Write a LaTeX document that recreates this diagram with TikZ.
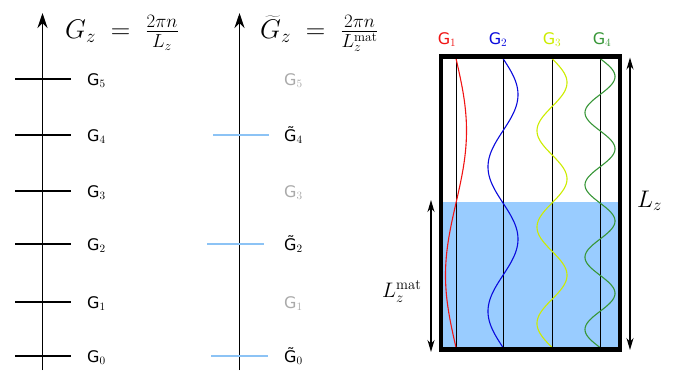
\RequirePackage{fix-cm}
\documentclass[tikz,border=0pt]{standalone}
\usepackage{fontspec}
\newfontfamily\dv{DejaVu Sans}
\usetikzlibrary{arrows.meta}
\definecolor{matblue}{RGB}{153,204,255}
\definecolor{tickblue}{RGB}{140,195,245}
\definecolor{lblgray}{RGB}{170,170,170}
\definecolor{wred}{RGB}{240,20,20}
\definecolor{wblue}{RGB}{10,10,220}
\definecolor{wyellow}{RGB}{204,236,0}
\definecolor{wgreen}{RGB}{55,150,55}
\tikzset{
  axisline/.style={line width=1.5pt,-{Stealth[length=15pt,width=10pt]}},
  tickline/.style={line width=1.5pt},
  bluetick/.style={line width=1.3pt,draw=tickblue},
  glab/.style={anchor=base west,inner sep=0pt,font=\dv\fontsize{16}{16}\selectfont},
  toplab/.style={anchor=base,inner sep=0pt,font=\dv\fontsize{16}{16}\selectfont},
  formula/.style={anchor=base west,inner sep=0pt,font=\fontsize{27}{31}\selectfont},
  dimarrow/.style={line width=1.5pt,{Stealth[length=12pt,width=7pt]}-{Stealth[length=12pt,width=7pt]}},
  wave/.style={line width=1.1pt},
  guide/.style={line width=0.8pt,draw=black}
}
\begin{document}
\begin{tikzpicture}[x=1pt,y=-1pt]
\useasboundingbox (0,0) rectangle (689,375);
% ---------- left axis ----------
\coordinate (a1b) at (42.5,370);
\coordinate (a1t) at (42.5,13);
\draw[axisline] (a1b) -- (a1t);
\node[formula] (f1) at (65,38) {$G_z \;=\; \frac{2\pi n}{L_z}$};
\foreach \i/\yy in {0/356,1/302,2/244,3/191,4/135,5/79}{
  \coordinate (l\i a) at (15,\yy);
  \coordinate (l\i b) at (71,\yy);
  \draw[tickline] (l\i a) -- (l\i b);
  \node[glab] (lg\i) at (87,\yy+6) {G$_{\i}$};
}
% ---------- middle axis ----------
\coordinate (a2b) at (239.5,370);
\coordinate (a2t) at (239.5,13);
\draw[axisline] (a2b) -- (a2t);
\node[formula] (f2) at (260,38) {$\widetilde{G}_z \;=\; \frac{2\pi n}{L_z^{\mathrm{mat}}}$};
\coordinate (m4a) at (213,135); \coordinate (m4b) at (269,135);
\coordinate (m2a) at (207,244); \coordinate (m2b) at (264,244);
\coordinate (m0a) at (211,356); \coordinate (m0b) at (268,356);
\draw[bluetick] (m4a) -- (m4b);
\draw[bluetick] (m2a) -- (m2b);
\draw[bluetick] (m0a) -- (m0b);
\node[glab,text=lblgray] (mg5) at (284,85) {G$_5$};
\node[glab] (mg4) at (284,141) {\~{G}$_4$};
\node[glab,text=lblgray] (mg3) at (284,197) {G$_3$};
\node[glab] (mg2) at (284,250) {\~{G}$_2$};
\node[glab,text=lblgray] (mg1) at (284,308) {G$_1$};
\node[glab] (mg0) at (284,362) {\~{G}$_0$};
% ---------- right box ----------
\fill[matblue] (443,202) rectangle (618,347.5);
\foreach \xx in {456,503,552,600}{
  \draw[guide] (\xx,58.5) -- (\xx,347.5);
}
\draw[wave,wred] plot[domain=0:289,samples=120,smooth] ({456+10.5*sin(\x*1.24567)},{58.5+\x});
\draw[wave,wblue] plot[domain=0:289,samples=160,smooth] ({503+15*sin(\x*2.49135)},{58.5+\x});
\draw[wave,wyellow] plot[domain=0:289,samples=200,smooth] ({552+15*sin(\x*3.73702)},{58.5+\x});
\draw[wave,wgreen] plot[domain=0:289,samples=240,smooth] ({600+15*sin(\x*4.98270)},{58.5+\x});
\node[rectangle,draw,line width=4.6pt,minimum width=179pt,minimum height=293pt,inner sep=0pt] (box) at (530.5,203) {};
\node[toplab,text=wred] (t1) at (447,44) {G$_1$};
\node[toplab,text=wblue] (t2) at (498,44) {G$_2$};
\node[toplab,text=wyellow] (t3) at (552,44) {G$_3$};
\node[toplab,text=wgreen] (t4) at (602,44) {G$_4$};
% dimension arrows
\coordinate (lzt) at (630,57.5);
\coordinate (lzb) at (630,350);
\draw[dimarrow] (lzt) -- (lzb);
\node[anchor=base west,inner sep=0pt,font=\fontsize{24}{28}\selectfont] (lz) at (637,207) {$L_z$};
\coordinate (lmt) at (431,200);
\coordinate (lmb) at (431,352);
\draw[dimarrow] (lmt) -- (lmb);
\node[anchor=base west,inner sep=0pt,font=\fontsize{21}{25}\selectfont] (lm) at (382,297) {$L_z^{\mathrm{mat}}$};
\end{tikzpicture}
\end{document}
